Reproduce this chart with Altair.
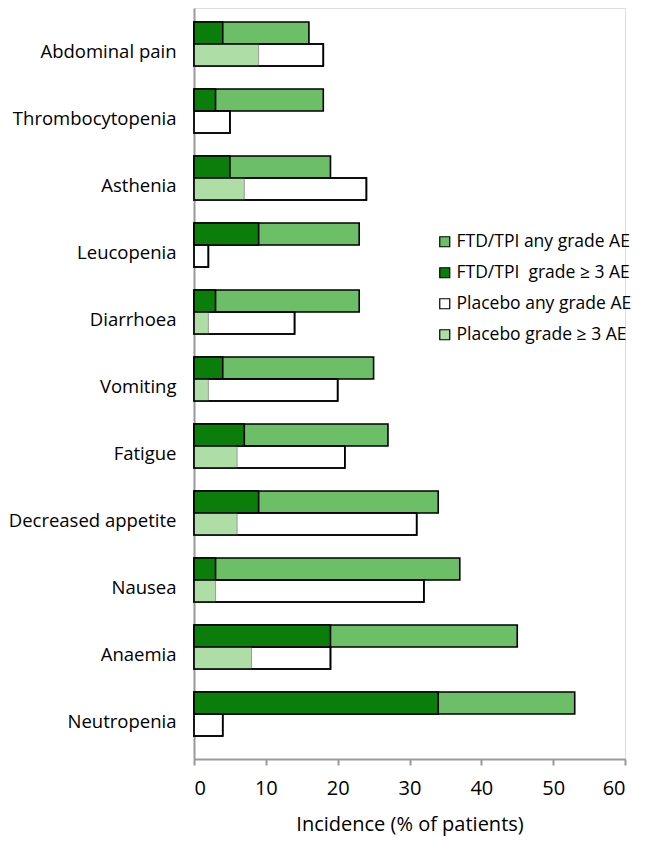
import altair as alt
import pandas as pd

categories = ["Abdominal pain", "Thrombocytopenia", "Asthenia", "Leucopenia", "Diarrhoea",
              "Vomiting", "Fatigue", "Decreased appetite", "Nausea", "Anaemia", "Neutropenia"]
ftd_any = [16, 18, 19, 23, 23, 25, 27, 34, 37, 45, 53]
ftd_g3 = [4, 3, 5, 9, 3, 4, 7, 9, 3, 19, 34]
pla_any = [18, 5, 24, 2, 14, 20, 21, 31, 32, 19, 4]
pla_g3 = [9, 0, 7, 0, 2, 2, 6, 6, 3, 8, 0]

series_labels = ["FTD/TPI any grade AE", "FTD/TPI\u00a0 grade \u2265 3 AE",
                 "Placebo any grade AE", "Placebo grade \u2265 3 AE"]
series_colors = ["#6cbf66", "#0b7d0b", "#ffffff", "#aedda6"]

rows = []
for i, c in enumerate(categories):
    rows.append(dict(category=c, group="FTD", series=series_labels[0], value=ftd_any[i]))
    rows.append(dict(category=c, group="FTD", series=series_labels[1], value=ftd_g3[i]))
    rows.append(dict(category=c, group="Placebo", series=series_labels[2], value=pla_any[i]))
    rows.append(dict(category=c, group="Placebo", series=series_labels[3], value=pla_g3[i]))
df = pd.DataFrame(rows)

FONT = "Open Sans"

y_enc = alt.Y("category:N", sort=categories, title=None,
              scale=alt.Scale(paddingInner=0.343, paddingOuter=0.276, align=0.378),
              axis=alt.Axis(labelFontSize=18.5, labelColor="black", labelFont=FONT,
                            ticks=False, domainColor="#999999", domainWidth=2,
                            labelPadding=18, labelOffset=8, labelLimit=300))
yoff_enc = alt.YOffset("group:N", sort=["FTD", "Placebo"], scale=alt.Scale(paddingInner=0, paddingOuter=0))
x_enc = alt.X("value:Q", title="Incidence (% of patients)",
              scale=alt.Scale(domain=[0, 60], nice=False),
              axis=alt.Axis(values=[0, 10, 20, 30, 40, 50, 60], grid=False,
                            labelFontSize=20, labelColor="black", labelFont=FONT,
                            titleFontSize=20, titleFont=FONT, titleFontWeight="normal",
                            titleColor="black", titlePadding=16,
                            domainColor="#999999", domainWidth=2, tickColor="#999999",
                            tickWidth=2, tickSize=6, labelPadding=13))
color_enc = alt.Color("series:N", scale=alt.Scale(domain=series_labels, range=series_colors),
                      legend=alt.Legend(title=None, orient="none", legendX=242, legendY=225,
                                        symbolType="square", symbolSize=100,
                                        symbolStrokeColor="black", symbolStrokeWidth=1.2,
                                        symbolOpacity=1, labelOffset=3,
                                        labelFontSize=17.5, labelFont=FONT, labelColor="black",
                                        rowPadding=12, labelLimit=300))

base = alt.Chart(df)

def layer(name, stroke, sw):
    return base.transform_filter(alt.datum.series == name).mark_bar(
        stroke=stroke, strokeWidth=sw, opacity=1
    ).encode(y=y_enc, yOffset=yoff_enc, x=x_enc, color=color_enc)

chart = alt.layer(
    layer(series_labels[0], "black", 1.6),
    layer(series_labels[1], "black", 1.6),
    layer(series_labels[2], "black", 1.6),
    layer(series_labels[3], "#9a9a9a", 1),
    base.transform_filter(alt.datum.series == series_labels[2]).mark_bar(
        fill="transparent", stroke="black", strokeWidth=1.6
    ).encode(y=y_enc, yOffset=yoff_enc, x=x_enc),
).properties(
    width=431, height=751,
    padding={"left": 0, "top": 0, "right": 5, "bottom": 3}
).configure_view(stroke=None).configure(font=FONT)

chart.save("out.html", embed_options={"renderer": "svg", "actions": False})
